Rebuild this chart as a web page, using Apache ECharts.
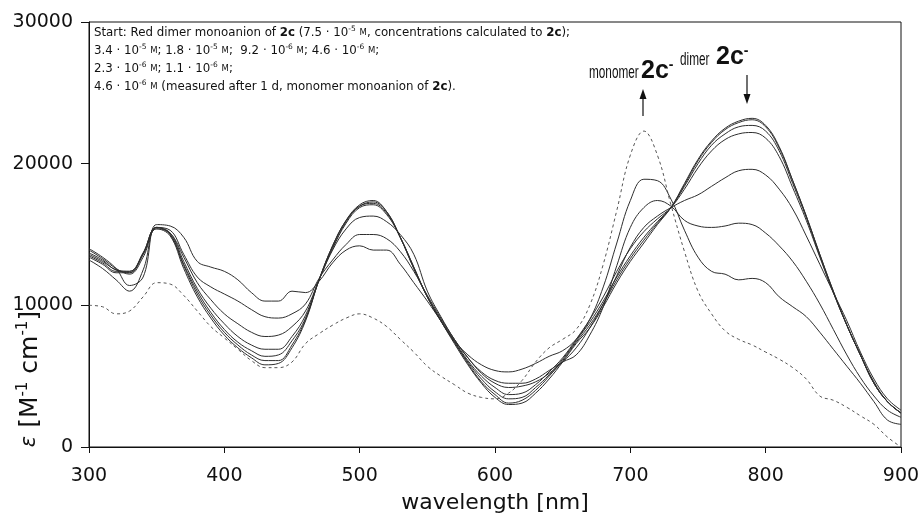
<!DOCTYPE html>
<html>
<head>
<meta charset="utf-8">
<title>2c spectra</title>
<script src="https://cdn.jsdelivr.net/npm/echarts@6/dist/echarts.min.js"></script>
<style>
html, body { margin: 0; padding: 0; background: #fff; }
#spectra { width: 923px; height: 519px; }
</style>
</head>
<body>
<div id="spectra"></div>
<script>
// wavelength grid [nm], values every 10 nm
var waveNm = [300, 310, 320, 330, 340, 350, 360, 370, 380, 390,
              400, 410, 420, 430, 440, 450, 460, 470, 480, 490,
              500, 510, 520, 530, 540, 550, 560, 570, 580, 590,
              600, 610, 620, 630, 640, 650, 660, 670, 680, 690,
              700, 710, 720, 730, 740, 750, 760, 770, 780, 790,
              800, 810, 820, 830, 840, 850, 860, 870, 880, 890, 900];

// epsilon [M-1 cm-1]
var eps75e5 = [13400, 12900, 12300, 12300, 13600, 15400, 14900, 12600, 10600, 9100,
               7900, 7000, 6300, 5800, 5900, 7000, 8900, 11800, 14200, 16000,
               17100, 17400, 16600, 14800, 12600, 10600, 8900, 7300, 5800, 4500,
               3500, 3000, 3100, 3800, 4800, 6000, 7300, 8400, 9900, 11600,
               13100, 14400, 15700, 16900, 18600, 20300, 21600, 22500, 23000, 23200,
               22700, 21200, 18800, 16300, 13600, 11000, 8600, 6500, 4500, 3200, 2400];
var eps34e5 = [13500, 13000, 12400, 12400, 13700, 15500, 15000, 12800, 10800, 9300,
               8100, 7200, 6500, 6100, 6100, 7200, 9000, 11800, 14200, 16000,
               17000, 17300, 16600, 14800, 12600, 10600, 8900, 7400, 5900, 4600,
               3700, 3100, 3300, 4000, 5000, 6100, 7400, 8600, 10100, 11800,
               13300, 14600, 15800, 16900, 18500, 20200, 21500, 22400, 22900, 23100,
               22600, 21100, 18800, 16300, 13600, 11000, 8600, 6500, 4500, 3200, 2400];
var eps18e5 = [13600, 13100, 12500, 12300, 13700, 15500, 15000, 12900, 11000, 9500,
               8300, 7400, 6800, 6400, 6500, 7500, 9100, 11800, 14100, 15900,
               17000, 17200, 16500, 14800, 12700, 10600, 8900, 7400, 6000, 4800,
               3900, 3400, 3500, 4200, 5100, 6200, 7500, 8800, 10300, 12000,
               13500, 14800, 15900, 16900, 18400, 20000, 21300, 22100, 22600, 22700,
               22300, 20900, 18600, 16200, 13500, 10900, 8600, 6500, 4500, 3200, 2400];
var eps92e6 = [13700, 13200, 12500, 12400, 13600, 15500, 15100, 13100, 11200, 9800,
               8700, 7800, 7200, 6900, 6900, 7800, 9300, 11800, 14000, 15800,
               16900, 17100, 16400, 14800, 12700, 10600, 9000, 7500, 6100, 5000,
               4200, 3700, 3800, 4400, 5300, 6300, 7600, 9000, 10600, 12400,
               14000, 15200, 16100, 16900, 18200, 19700, 20900, 21700, 22100, 22200,
               21800, 20500, 18300, 16000, 13400, 10900, 8600, 6500, 4600, 3200, 2400];
var eps46e6 = [13900, 13300, 12600, 12200, 13400, 15400, 15100, 13400, 11600, 10400,
               9400, 8700, 8100, 7800, 7900, 8500, 9600, 11800, 13900, 15400,
               16200, 16300, 15900, 15000, 13600, 11000, 9200, 7600, 6300, 5200,
               4500, 4200, 4300, 4600, 5200, 6000, 7000, 8400, 10100, 12100,
               14100, 15500, 16300, 16900, 17400, 17800, 18400, 19000, 19500, 19600,
               19200, 18200, 16800, 14900, 12900, 10900, 8900, 6700, 4800, 3400, 2600];
var eps23e6 = [13200, 12600, 11800, 11000, 12500, 15500, 15300, 13600, 12000, 11300,
               10800, 10300, 9700, 9200, 9100, 9400, 10100, 11900, 13200, 14300,
               15000, 15000, 14700, 13800, 12400, 10700, 9100, 7600, 6300, 5300,
               4700, 4500, 4500, 4800, 5400, 6000, 6500, 7900, 9900, 12800,
               15500, 16900, 17400, 17000, 16000, 15600, 15500, 15600, 15800, 15700,
               15100, 14200, 13100, 11700, 10100, 8300, 6500, 4900, 3600, 2600, 2100];
var eps11e6 = [14000, 13400, 12600, 11400, 12000, 15700, 15600, 14800, 13100, 12700,
               12400, 11800, 10900, 10300, 10300, 11000, 10900, 11700, 13000, 13900,
               14200, 13900, 13900, 12900, 11600, 10300, 8900, 7500, 6500, 5800,
               5400, 5300, 5500, 5900, 6400, 6800, 7600, 9000, 11300, 14400,
               17400, 18900, 18800, 17500, 15300, 13400, 12400, 12200, 11800, 11900,
               11600, 10600, 9900, 9200, 8100, 6900, 5700, 4500, 3200, 1900, 1600];
// dashed: 4.6e-6 M measured after 1 d (monomer)
var epsMonomer = [10000, 9900, 9400, 9600, 10600, 11600, 11500, 10700, 9600, 8500,
                  7700, 6900, 6100, 5600, 5600, 6000, 7300, 8000, 8600, 9100,
                  9400, 9100, 8500, 7600, 6700, 5700, 5000, 4400, 3800, 3500,
                  3400, 3800, 4700, 6000, 7000, 7600, 8300, 10000, 12900, 16700,
                  20600, 22300, 20600, 17100, 13800, 11000, 9400, 8200, 7600, 7200,
                  6700, 6200, 5600, 4800, 3600, 3300, 2800, 2200, 1600, 700, 0];

var dimerSeries = [eps75e5, eps34e5, eps18e5, eps92e6, eps46e6, eps23e6, eps11e6];

var noteLines = [
  'Start: Red dimer monoanion of {b|2c} (7.5 \u00b7 10{s|-5} {m|M}, concentrations calculated to {b|2c});',
  '3.4 \u00b7 10{s|-5} {m|M}; 1.8 \u00b7 10{s|-5} {m|M};  9.2 \u00b7 10{s|-6} {m|M}; 4.6 \u00b7 10{s|-6} {m|M};',
  '2.3 \u00b7 10{s|-6} {m|M}; 1.1 \u00b7 10{s|-6} {m|M};',
  '4.6 \u00b7 10{s|-6} {m|M} (measured after 1 d, monomer monoanion of {b|2c}).'
];

(function() {

  var ink = '#2e2e2e';
  var axisFont = 'DejaVu Sans';

  var pairs = function(ys) {
    var out = [];
    for (var i = 0; i < waveNm.length; i++) {
      out.push([waveNm[i], ys[i]]);
    }
    return out;
  };

  var series = [];
  for (var k = 0; k < dimerSeries.length; k++) {
    series.push({
      type: 'line',
      data: pairs(dimerSeries[k]),
      symbol: 'none',
      smooth: 0.4,
      lineStyle: {color: ink, width: 1}
    });
  }
  series.push({
    type: 'line',
    data: pairs(epsMonomer),
    symbol: 'none',
    smooth: 0.4,
    lineStyle: {color: '#555', width: 1, type: [3, 3]}
  });

  // note text block, top left
  var noteRich = {
    b: {fontWeight: 'bold', fontSize: 11.8, fontFamily: axisFont, lineHeight: 15},
    s: {fontSize: 7.5, fontFamily: axisFont, lineHeight: 7, verticalAlign: 'top'},
    m: {fontSize: 8.5, fontFamily: axisFont, lineHeight: 15}
  };
  var graphics = [];
  var noteY = [33, 51, 69, 87];
  for (var n = 0; n < noteLines.length; n++) {
    graphics.push({
      type: 'text', x: 94, y: noteY[n],
      style: {
        text: noteLines[n], rich: noteRich, fill: '#111',
        fontSize: 11.8, fontFamily: axisFont, lineHeight: 15,
        align: 'left', verticalAlign: 'middle',
        textAlign: 'left', textVerticalAlign: 'middle'
      }
    });
  }

  var bigRich = {
    c: {fontSize: 25, fontWeight: 'bold', fontFamily: 'Liberation Sans', lineHeight: 26},
    s: {fontSize: 14, fontWeight: 'bold', fontFamily: 'Liberation Sans', lineHeight: 10, verticalAlign: 'top'}
  };
  var label = function(word, x, y) {
    return {
      type: 'text', x: x, y: y, scaleX: 0.62,
      style: {
        text: word, fill: '#111', fontSize: 19, fontFamily: 'Liberation Sans',
        align: 'left', verticalAlign: 'middle', textAlign: 'left', textVerticalAlign: 'middle'
      }
    };
  };
  var big = function(x, y) {
    return {
      type: 'text', x: x, y: y,
      style: {
        text: '{c|2c}{s|-}', rich: bigRich, fill: '#111',
        align: 'left', verticalAlign: 'middle', textAlign: 'left', textVerticalAlign: 'middle'
      }
    };
  };
  graphics.push(label('monomer', 589, 73));
  graphics.push(big(641, 71));
  graphics.push(label('dimer', 680, 60));
  graphics.push(big(716, 57));

  // arrows
  graphics.push({type: 'line', shape: {x1: 643, y1: 97, x2: 643, y2: 116}, style: {stroke: '#111', lineWidth: 1.2}});
  graphics.push({type: 'polygon', shape: {points: [[643, 89], [639.5, 99], [646.5, 99]]}, style: {fill: '#111'}});
  graphics.push({type: 'line', shape: {x1: 747, y1: 75, x2: 747, y2: 96}, style: {stroke: '#111', lineWidth: 1.2}});
  graphics.push({type: 'polygon', shape: {points: [[747, 104], [743.5, 94], [750.5, 94]]}, style: {fill: '#111'}});

  // y axis title, rotated
  graphics.push({
    type: 'text', x: 30, y: 379, rotation: Math.PI / 2,
    style: {
      text: '{e|\u03b5} [M{s|-1} cm{s|-1}]',
      rich: {
        e: {fontSize: 21, fontStyle: 'italic', fontFamily: axisFont, lineHeight: 28},
        s: {fontSize: 15, fontFamily: axisFont, lineHeight: 12, verticalAlign: 'top'}
      },
      fill: '#111', fontSize: 25, fontFamily: axisFont, lineHeight: 28,
      align: 'center', verticalAlign: 'middle', textAlign: 'center', textVerticalAlign: 'middle'
    }
  });

  var chart = echarts.init(document.getElementById('spectra'));
  chart.setOption({
    animation: false,
    backgroundColor: '#fff',
    grid: {left: 89, right: 22, top: 22, bottom: 72, show: true, borderColor: '#111', borderWidth: 1},
    xAxis: {
      type: 'value', min: 300, max: 900, interval: 100,
      axisLine: {lineStyle: {color: '#111', width: 1}},
      axisTick: {length: 6, lineStyle: {color: '#111'}},
      splitLine: {show: false},
      axisLabel: {color: '#111', fontSize: 19, fontFamily: axisFont, margin: 20},
      name: 'wavelength [nm]', nameLocation: 'middle', nameGap: 45,
      nameTextStyle: {color: '#111', fontSize: 22, fontFamily: axisFont}
    },
    yAxis: {
      type: 'value', min: 0, max: 30000, interval: 10000,
      axisLine: {show: true, lineStyle: {color: '#111', width: 1}},
      axisTick: {show: true, length: 8, lineStyle: {color: '#111'}},
      splitLine: {show: false},
      axisLabel: {color: '#111', fontSize: 19, fontFamily: axisFont, margin: 16,
        formatter: function(v) { return String(v); }}
    },
    series: series,
    graphic: graphics
  });

})();
</script>
</body>
</html>
